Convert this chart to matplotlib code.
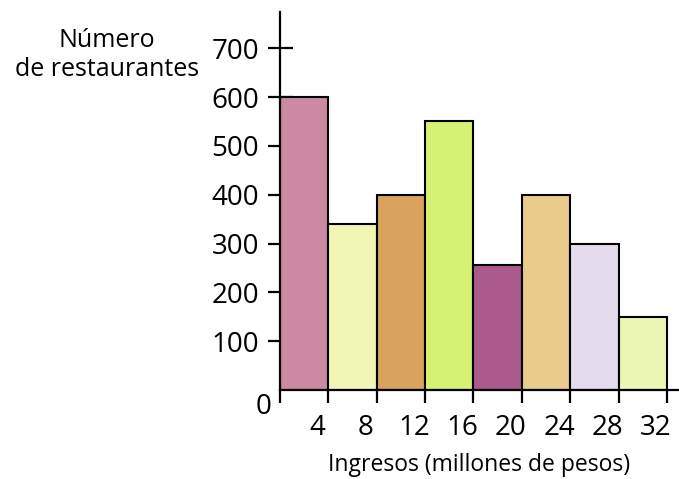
import matplotlib.pyplot as plt
import matplotlib.transforms as mtransforms

plt.rcParams['font.family'] = ['Open Sans', 'DejaVu Sans']

limites = [0, 4, 8, 12, 16, 20, 24, 28]
restaurantes = [600, 340, 400, 550, 255, 400, 300, 150]
colores = ["#cc8aa2", "#f1f6b4", "#d9a35e", "#d6f272", "#ac5a8e",
           "#e9cc8c", "#e4dcec", "#eaf6b2"]
marcas_x = [0, 4, 8, 12, 16, 20, 24, 28, 32]
etiquetas_x = ["", "4", "8", "12", "16", "20", "24", "28", "32"]
marcas_y = [100, 200, 300, 400, 500, 600, 700]

fig = plt.figure(figsize=(6.79, 4.79), dpi=100)
ax = fig.add_axes([0.4124, 0.1858, 0.5876, 0.79])

ax.bar(limites, restaurantes, width=4, align="edge", color=colores,
       edgecolor="black", linewidth=1.5, zorder=2)

ax.set_xlim(0, 33)
ax.set_ylim(0, 775)
for lado in ["top", "right"]:
    ax.spines[lado].set_visible(False)
ax.spines["left"].set_linewidth(1.6)
ax.spines["bottom"].set_linewidth(1.6)

ax.set_xticks(marcas_x)
ax.set_xticklabels(etiquetas_x, fontsize=20)
ax.tick_params(axis="x", direction="out", length=9, width=1.6, pad=8)
desplaza = mtransforms.ScaledTranslation(-11 / 100, 0, fig.dpi_scale_trans)
for lab in ax.get_xticklabels():
    lab.set_transform(lab.get_transform() + desplaza)

ax.set_yticks(marcas_y)
ax.tick_params(axis="y", direction="inout", length=18, width=1.6,
               labelsize=20, pad=6)

ax.text(-1.4, -35, "0", fontsize=20, ha="center", va="center")
ax.set_xlabel("Ingresos (millones de pesos)", fontsize=16.5, labelpad=8)
fig.text(0.158, 0.885, "Número\nde restaurantes", fontsize=18,
         ha="center", va="center", linespacing=1.25)

fig.savefig("out.png", dpi=100)
